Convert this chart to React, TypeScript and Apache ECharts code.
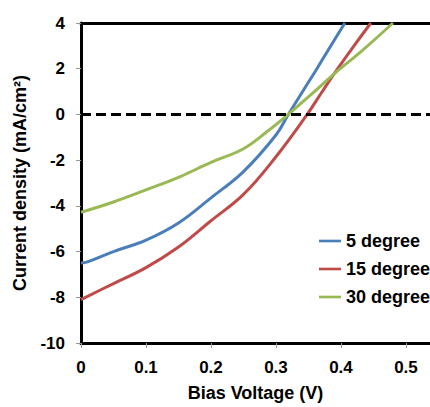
import React, { useEffect, useRef } from "react";
import * as echarts from "echarts";

const seriesNames = ["5 degree", "15 degree", "30 degree"];
const colors = ["#4A7EBB", "#BE4B48", "#98B954"];

const voltage5 = [0, 0.01, 0.05, 0.1, 0.15, 0.2, 0.25, 0.3, 0.319, 0.342, 0.363, 0.38, 0.406];
const current5 = [-6.5, -6.45, -6.0, -5.5, -4.75, -3.65, -2.5, -0.9, 0, 1.05, 2.0, 2.8, 4.0];

const voltage15 = [0, 0.05, 0.1, 0.15, 0.2, 0.25, 0.3, 0.348, 0.37, 0.395, 0.42, 0.446];
const current15 = [-8.1, -7.4, -6.7, -5.8, -4.65, -3.5, -1.85, 0, 0.95, 2.0, 3.0, 4.0];

const voltage30 = [0, 0.05, 0.1, 0.15, 0.2, 0.25, 0.286, 0.319, 0.352, 0.398, 0.429, 0.48];
const current30 = [-4.28, -3.83, -3.3, -2.75, -2.1, -1.5, -0.76, 0, 0.82, 1.98, 2.7, 4.0];

const xTickInterval = 0.1;
const yTickInterval = 2;

const FONT = "'Liberation Sans', Arial, sans-serif";

export default function App() {
  const ref = useRef<HTMLDivElement>(null);
  useEffect(() => {
    if (!ref.current) return;
    const chart = echarts.init(ref.current, undefined, { renderer: "svg" });
    const pairs = [
      [voltage5, current5],
      [voltage15, current15],
      [voltage30, current30],
    ];
    const series: any[] = pairs.map(([xs, ys], i) => ({
      name: seriesNames[i],
      type: "line",
      xAxisIndex: 0,
      yAxisIndex: 0,
      data: xs.map((x, k) => [x, ys[k]]),
      showSymbol: false,
      symbol: "none",
      smooth: 0.4,
      lineStyle: { color: colors[i], width: 3 },
      itemStyle: { color: colors[i] },
      z: 3,
    }));
    series.push({
      type: "line",
      data: [],
      xAxisIndex: 0,
      yAxisIndex: 0,
      markLine: {
        silent: true,
        symbol: "none",
        label: { show: false },
        lineStyle: { color: "#000", width: 3, type: [10, 5] },
        data: [{ yAxis: 0 }],
      },
      z: 2,
    });
    chart.setOption({
      animation: false,
      backgroundColor: "#fff",
      grid: { left: 81, right: 0, top: 23, bottom: 60, containLabel: false },
      legend: {
        data: seriesNames,
        orient: "vertical",
        left: 314,
        top: 227,
        itemWidth: 22,
        itemHeight: 14,
        itemGap: 10,
        icon: "path://M0,6 L25,6 L25,9 L0,9 Z",
        textStyle: { fontFamily: FONT, fontSize: 18, fontWeight: "bold", color: "#000" },
      },
      xAxis: [
        {
          type: "value",
          min: 0,
          max: 0.537,
          interval: xTickInterval,
          name: "Bias Voltage (V)",
          nameLocation: "middle",
          nameGap: 41,
          nameTextStyle: { fontFamily: FONT, fontSize: 18, fontWeight: "bold", color: "#000" },
          axisLine: { show: true, onZero: false, lineStyle: { color: "#000", width: 3 } },
          axisTick: { show: true, length: 5, lineStyle: { color: "#999", width: 1 } },
          axisLabel: {
            margin: 16,
            showMaxLabel: false,
            fontFamily: FONT,
            fontSize: 17,
            fontWeight: "bold",
            color: "#000",
          },
          splitLine: { show: false },
        },
        {
          type: "value",
          position: "top",
          min: 0,
          max: 0.537,
          axisLine: { show: true, onZero: false, lineStyle: { color: "#000", width: 3 } },
          axisTick: { show: false },
          axisLabel: { show: false },
          splitLine: { show: false },
        },
      ],
      yAxis: {
        type: "value",
        min: -10,
        max: 4,
        interval: yTickInterval,
        name: "Current density (mA/cm²)",
        nameLocation: "middle",
        nameGap: 52,
        nameTextStyle: { fontFamily: FONT, fontSize: 18, fontWeight: "bold", color: "#000" },
        axisLine: { show: true, onZero: false, lineStyle: { color: "#000", width: 3 } },
        axisTick: { show: true, length: 5, lineStyle: { color: "#999", width: 1 } },
        axisLabel: { margin: 16, fontFamily: FONT, fontSize: 17, fontWeight: "bold", color: "#000" },
        splitLine: { show: false },
      },
      series,
    });
    return () => chart.dispose();
  }, []);
  return (
    <div
      ref={ref}
      style={{ position: "fixed", left: 0, top: 0, width: 430, height: 407 }}
    />
  );
}
